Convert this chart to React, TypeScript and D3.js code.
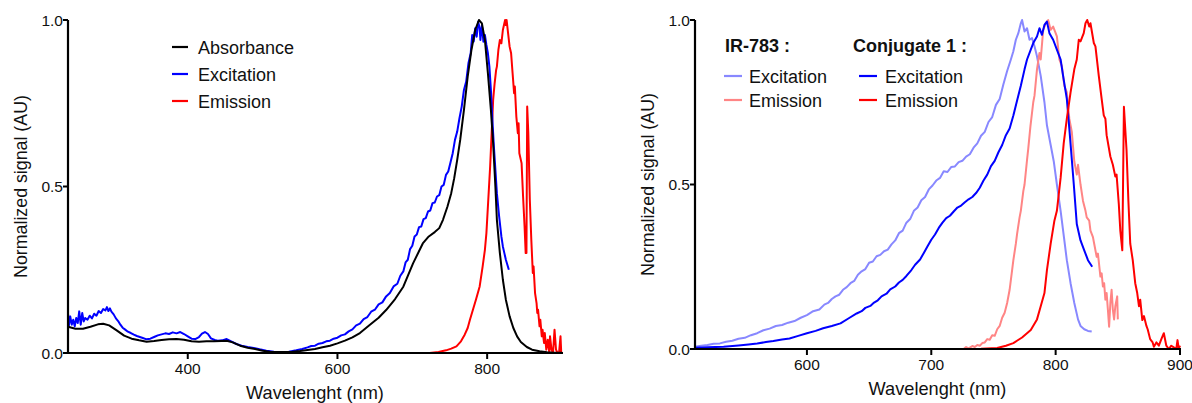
import React from "react";
import * as d3 from "d3";

// ---------- Data (wavelength nm, normalized signal) ----------
const leftAbsorbance: [number, number][] = [
  [240, 0.079], [250, 0.073], [260, 0.073], [270, 0.079], [280, 0.086], [287, 0.088], [295, 0.083],
  [305, 0.068], [315, 0.052], [325, 0.043], [335, 0.038], [345, 0.034], [355, 0.036], [365, 0.039],
  [375, 0.041], [385, 0.042], [395, 0.040], [405, 0.035], [415, 0.034], [425, 0.035], [435, 0.035],
  [445, 0.036], [452, 0.037], [460, 0.032], [470, 0.022], [480, 0.016], [490, 0.012], [500, 0.007],
  [510, 0.004], [520, 0.003], [530, 0.003], [540, 0.004], [550, 0.006], [560, 0.009], [570, 0.012],
  [580, 0.017], [590, 0.022], [600, 0.029], [610, 0.037], [620, 0.047], [630, 0.060], [643, 0.084],
  [655, 0.106], [665, 0.129], [677, 0.162], [688, 0.199], [701, 0.269], [714, 0.329], [722, 0.350],
  [730, 0.363], [736, 0.375], [741, 0.40], [747, 0.44], [752, 0.48], [756, 0.525], [760, 0.58],
  [764, 0.64], [769, 0.73], [774, 0.83], [779, 0.91], [784, 0.97], [789, 1.0], [793, 0.99],
  [797, 0.94], [801, 0.84], [805, 0.73], [808, 0.63], [811, 0.50], [813, 0.40], [817, 0.30],
  [821, 0.22], [825, 0.16], [830, 0.11], [835, 0.075], [840, 0.050], [845, 0.033], [853, 0.018],
  [860, 0.010], [870, 0.005], [880, 0.002], [890, 0.001], [900, 0.001],
];

const leftExcitation: [number, number][] = [
  [240, 0.12], [241, 0.08], [243, 0.11], [245, 0.085], [247, 0.10], [249, 0.08], [251, 0.105],
  [253, 0.09], [255, 0.125], [257, 0.085], [259, 0.12], [261, 0.095], [263, 0.105], [266, 0.10],
  [269, 0.112], [272, 0.104], [275, 0.118], [278, 0.112], [281, 0.126], [284, 0.12], [287, 0.132],
  [290, 0.128], [292, 0.138], [294, 0.126], [296, 0.134], [298, 0.124], [301, 0.116], [304, 0.104],
  [307, 0.096], [310, 0.085], [313, 0.076], [316, 0.071], [320, 0.064], [324, 0.060], [328, 0.055],
  [332, 0.051], [336, 0.048], [340, 0.045], [345, 0.041], [350, 0.043], [355, 0.048], [360, 0.053],
  [365, 0.056], [370, 0.059], [375, 0.057], [380, 0.062], [385, 0.059], [390, 0.063], [395, 0.057],
  [400, 0.050], [405, 0.043], [410, 0.042], [415, 0.048], [419, 0.058], [423, 0.063], [427, 0.057],
  [431, 0.044], [436, 0.039], [440, 0.037], [446, 0.038], [452, 0.042], [458, 0.035], [465, 0.027],
  [472, 0.022], [480, 0.018], [488, 0.015], [496, 0.011], [505, 0.007], [515, 0.004], [525, 0.003],
  [535, 0.004], [545, 0.008], [553, 0.012], [560, 0.017], [565, 0.021], [570, 0.022], [575, 0.028],
  [580, 0.030], [585, 0.035], [590, 0.037], [595, 0.043], [600, 0.046], [605, 0.053], [610, 0.056],
  [615, 0.065], [620, 0.071], [625, 0.083], [630, 0.088], [635, 0.102], [640, 0.108], [645, 0.124],
  [650, 0.130], [655, 0.146], [660, 0.152], [665, 0.170], [670, 0.180], [675, 0.200], [680, 0.208],
  [684, 0.232], [688, 0.245], [691, 0.272], [694, 0.280], [697, 0.312], [700, 0.322], [703, 0.350],
  [706, 0.356], [709, 0.378], [712, 0.380], [715, 0.402], [718, 0.405], [721, 0.425], [724, 0.428],
  [727, 0.450], [730, 0.452], [733, 0.470], [736, 0.474], [739, 0.500], [742, 0.505], [745, 0.535],
  [748, 0.545], [751, 0.572], [754, 0.600], [757, 0.640], [760, 0.665], [763, 0.705], [766, 0.740],
  [769, 0.790], [772, 0.815], [775, 0.870], [778, 0.900], [780, 0.955], [782, 0.935], [784, 0.975],
  [786, 0.950], [788, 0.995], [790, 0.975], [791, 0.940], [793, 0.985], [795, 0.935], [797, 0.955],
  [799, 0.925], [801, 0.900], [803, 0.860], [805, 0.790], [807, 0.700], [809, 0.620], [811, 0.550],
  [813, 0.480], [816, 0.410], [819, 0.350], [821, 0.320], [823, 0.300], [825, 0.280], [827, 0.265],
  [829, 0.250],
];

const leftEmission: [number, number][] = [
  [723, 0.0], [735, 0.003], [745, 0.008], [752, 0.013], [759, 0.020], [765, 0.035], [770, 0.055],
  [774, 0.075], [777, 0.100], [781, 0.130], [785, 0.160], [790, 0.200], [794, 0.260], [797, 0.310],
  [799, 0.360], [801, 0.440], [803, 0.520], [804, 0.560], [806, 0.660], [808, 0.760], [810, 0.810],
  [812, 0.850], [813, 0.860], [815, 0.910], [817, 0.940], [819, 0.930], [821, 0.970], [823, 0.990],
  [824, 1.0], [825, 0.985], [826, 1.0], [828, 0.960], [830, 0.920], [832, 0.900], [834, 0.840],
  [836, 0.780], [837, 0.800], [839, 0.710], [841, 0.660], [842, 0.690], [843, 0.600], [845, 0.580],
  [846, 0.570], [848, 0.470], [850, 0.380], [851.5, 0.300], [852.5, 0.300], [853.5, 0.740],
  [855, 0.660], [857, 0.460], [859, 0.340], [861, 0.240], [862, 0.260], [864, 0.180], [866, 0.150],
  [867, 0.120], [868, 0.130], [870, 0.080], [871, 0.100], [873, 0.050], [874, 0.070], [876, 0.030],
  [877, 0.060], [879, 0.010], [881, 0.040], [883, 0.0], [884, 0.050], [886, 0.010], [888, 0.0],
  [890, 0.070], [892, 0.010], [894, 0.0], [896, 0.0], [898, 0.050], [899, 0.0],
];

const irExcitation: [number, number][] = [
  [510, 0.007], [515, 0.010], [520, 0.012], [525, 0.016], [530, 0.017], [535, 0.022], [540, 0.025],
  [545, 0.031], [550, 0.034], [555, 0.042], [560, 0.048], [565, 0.057], [570, 0.062], [575, 0.070],
  [580, 0.073], [585, 0.080], [590, 0.085], [595, 0.095], [600, 0.103], [605, 0.115], [610, 0.120],
  [614, 0.135], [617, 0.140], [620, 0.152], [623, 0.160], [626, 0.165], [629, 0.180], [632, 0.188],
  [635, 0.200], [638, 0.207], [641, 0.226], [644, 0.236], [647, 0.243], [650, 0.262], [653, 0.266],
  [656, 0.282], [659, 0.286], [662, 0.297], [665, 0.302], [668, 0.318], [671, 0.330], [674, 0.352],
  [677, 0.360], [680, 0.384], [683, 0.395], [686, 0.420], [689, 0.430], [692, 0.452], [695, 0.462],
  [698, 0.485], [701, 0.497], [704, 0.512], [707, 0.520], [710, 0.540], [713, 0.538], [716, 0.553],
  [719, 0.555], [722, 0.568], [725, 0.572], [728, 0.585], [731, 0.592], [734, 0.612], [737, 0.625],
  [740, 0.648], [743, 0.660], [746, 0.690], [749, 0.705], [752, 0.742], [755, 0.760], [758, 0.805],
  [761, 0.845], [764, 0.880], [766, 0.905], [768, 0.940], [770, 0.960], [772, 0.990], [773, 1.0],
  [775, 0.965], [777, 0.975], [779, 0.940], [781, 0.945], [783, 0.920], [785, 0.890], [788, 0.830],
  [791, 0.750], [793, 0.680], [796, 0.620], [798.5, 0.570], [801, 0.500], [804, 0.420], [807, 0.330],
  [809, 0.270], [812, 0.200], [815, 0.140], [818, 0.090], [820, 0.070], [823, 0.060], [826, 0.055],
  [829, 0.053],
];

const conjExcitation: [number, number][] = [
  [510, 0.004], [520, 0.005], [533, 0.007], [545, 0.011], [553, 0.014], [560, 0.017], [567, 0.021],
  [573, 0.024], [580, 0.029], [586, 0.032], [593, 0.040], [600, 0.048], [607, 0.055], [613, 0.063],
  [620, 0.070], [627, 0.078], [633, 0.092], [640, 0.108], [644, 0.115], [647, 0.125], [651, 0.131],
  [654, 0.141], [657, 0.148], [660, 0.160], [664, 0.168], [667, 0.181], [671, 0.190], [674, 0.202],
  [677, 0.210], [680, 0.222], [684, 0.240], [687, 0.256], [691, 0.272], [694, 0.292], [697, 0.312],
  [700, 0.332], [703, 0.348], [706, 0.368], [709, 0.384], [712, 0.398], [715, 0.405], [718, 0.418],
  [721, 0.430], [724, 0.436], [727, 0.446], [730, 0.455], [733, 0.462], [736, 0.474], [739, 0.490],
  [742, 0.512], [745, 0.530], [748, 0.556], [751, 0.572], [754, 0.598], [757, 0.620], [760, 0.650],
  [763, 0.670], [766, 0.710], [769, 0.755], [772, 0.800], [775, 0.850], [777, 0.880], [780, 0.910],
  [782, 0.930], [785, 0.950], [787, 0.975], [789, 0.955], [791, 0.985], [793, 0.995], [795, 0.960],
  [798, 0.940], [801, 0.910], [804, 0.880], [806, 0.830], [809, 0.760], [811, 0.670], [812.5, 0.600],
  [814.6, 0.500], [817, 0.380], [820, 0.330], [823, 0.300], [826, 0.270], [829.4, 0.250],
];

const irEmission: [number, number][] = [
  [726, 0.0], [728, 0.006], [730, 0.002], [733, 0.009], [735, 0.006], [737, 0.012], [739, 0.010],
  [741, 0.018], [743, 0.020], [745, 0.030], [747, 0.028], [749, 0.042], [751, 0.040], [753, 0.060],
  [755, 0.070], [757, 0.095], [759, 0.110], [761, 0.140], [763, 0.180], [765, 0.240], [766, 0.270],
  [768, 0.320], [769, 0.350], [771, 0.400], [772, 0.420], [774, 0.480], [775, 0.500], [777, 0.575],
  [778, 0.610], [779.7, 0.676], [782, 0.750], [783, 0.770], [785, 0.850], [787, 0.900], [788, 0.880],
  [790, 0.970], [792, 0.990], [794, 1.0], [796, 0.970], [798, 0.980], [801, 0.950], [803, 0.880],
  [805, 0.860], [807, 0.800], [809, 0.780], [811, 0.700], [813, 0.660], [815, 0.570], [817, 0.530],
  [818, 0.560], [820, 0.500], [822, 0.450], [824, 0.420], [825, 0.400], [827, 0.390], [828, 0.360],
  [830, 0.340], [831, 0.320], [833, 0.280], [834, 0.290], [836, 0.220], [837, 0.230], [838, 0.190],
  [839, 0.200], [840, 0.150], [841, 0.170], [842, 0.120], [843, 0.068], [844, 0.140], [845, 0.180],
  [846, 0.120], [847, 0.090], [848, 0.130], [849.5, 0.160], [850, 0.090],
];

const conjEmission: [number, number][] = [
  [725, 0.0], [740, 0.001], [753, 0.003], [760, 0.010], [766, 0.018], [773, 0.035], [780, 0.058],
  [785, 0.090], [788, 0.130], [791, 0.170], [793, 0.240], [796, 0.320], [799, 0.390], [801, 0.420],
  [804, 0.520], [806.5, 0.626], [809, 0.700], [812, 0.780], [815, 0.850], [817, 0.880], [818.6, 0.940],
  [820, 0.935], [822.6, 0.960], [824, 0.990], [825.4, 1.0], [827, 0.980], [828, 0.990], [830.7, 0.930],
  [832, 0.920], [834.7, 0.830], [837, 0.760], [838.7, 0.710], [840, 0.700], [841, 0.650], [844, 0.585],
  [846, 0.560], [848, 0.524], [849, 0.530], [850.8, 0.440], [852, 0.360], [853.6, 0.300], [854.2, 0.500],
  [854.9, 0.736], [857, 0.605], [858.5, 0.450], [860, 0.320], [862, 0.270], [864, 0.200], [865.6, 0.170],
  [867, 0.130], [868, 0.150], [869.7, 0.088], [871, 0.100], [873, 0.070], [874, 0.060], [876, 0.030],
  [878, 0.020], [879, 0.007], [881, 0.020], [883, 0.010], [885, 0.030], [887, 0.048], [889, 0.010],
  [891, 0.0], [893, 0.010], [895, 0.005], [897, 0.0], [898, 0.027], [899, 0.0], [900, 0.010],
];

const leftXTicks = [400, 600, 800];
const rightXTicks = [600, 700, 800, 900];
const yTicks = [0, 0.5, 1.0];

const leftLegend = [
  { label: "Absorbance", color: "#000000" },
  { label: "Excitation", color: "#0000ff" },
  { label: "Emission", color: "#ff0000" },
];
const irLegend = [
  { label: "Excitation", color: "#8888ff" },
  { label: "Emission", color: "#ff8585" },
];
const conjLegend = [
  { label: "Excitation", color: "#0000ff" },
  { label: "Emission", color: "#ff0000" },
];

const FONT = "'Liberation Sans', Arial, sans-serif";

type Panel = {
  x0: number; x1: number; yTop: number; yBot: number; domain: [number, number]; ticks: number[];
};

function Axes({ p, xs, ys }: { p: Panel; xs: d3.ScaleLinear<number, number>; ys: d3.ScaleLinear<number, number> }) {
  return (
    <g>
      <line x1={p.x0} x2={p.x0} y1={p.yTop} y2={p.yBot + 1} stroke="#000" strokeWidth={2.2} />
      <line x1={p.x0 - 1} x2={p.x1 + 1} y1={p.yBot} y2={p.yBot} stroke="#000" strokeWidth={2.2} />
      {yTicks.map((t) => (
        <g key={t}>
          <line x1={p.x0 - 5} x2={p.x0} y1={ys(t)} y2={ys(t)} stroke="#000" strokeWidth={2} />
          <text x={p.x0 - 5} y={ys(t) + 5.5} textAnchor="end" fontSize={15.5} fontFamily={FONT} fill="#111">
            {d3.format(".1f")(t)}
          </text>
        </g>
      ))}
      {p.ticks.map((t) => (
        <g key={t}>
          <line x1={xs(t)} x2={xs(t)} y1={p.yBot} y2={p.yBot + 6} stroke="#000" strokeWidth={2} />
          <text x={xs(t)} y={p.yBot + 21} textAnchor="middle" fontSize={15.5} fontFamily={FONT} fill="#111">
            {t}
          </text>
        </g>
      ))}
      <text
        x={(p.x0 + p.x1) / 2}
        y={p.yBot + 46}
        textAnchor="middle"
        fontSize={18.2}
        fontFamily={FONT}
        fill="#111"
      >
        Wavelenght (nm)
      </text>
      <text
        transform={`translate(${p.x0 - 41},${(p.yTop + p.yBot) / 2}) rotate(-90)`}
        textAnchor="middle"
        fontSize={17.8}
        fontFamily={FONT}
        fill="#111"
      >
        Normalized signal (AU)
      </text>
    </g>
  );
}

export default function App() {
  const L: Panel = { x0: 68, x1: 562, yTop: 20, yBot: 353, domain: [240, 900], ticks: leftXTicks };
  const R: Panel = { x0: 695, x1: 1180, yTop: 20, yBot: 349, domain: [510, 900], ticks: rightXTicks };

  const lx = d3.scaleLinear().domain(L.domain).range([L.x0, L.x1]);
  const ly = d3.scaleLinear().domain([0, 1]).range([L.yBot, L.yTop]);
  const rx = d3.scaleLinear().domain(R.domain).range([R.x0, R.x1]);
  const ry = d3.scaleLinear().domain([0, 1]).range([R.yBot, R.yTop]);

  const lLine = d3.line<[number, number]>().x((d) => lx(d[0])).y((d) => ly(d[1]));
  const rLine = d3.line<[number, number]>().x((d) => rx(d[0])).y((d) => ry(d[1]));

  const lineProps = { fill: "none", strokeWidth: 2, strokeLinejoin: "round" as const };

  return (
    <svg
      width={1192}
      height={403}
      style={{ position: "absolute", left: 0, top: 0, background: "#fff" }}
    >
      {/* Left panel */}
      <path d={lLine(leftEmission) || ""} stroke="#ff0000" {...lineProps} />
      <path d={lLine(leftExcitation) || ""} stroke="#0000ff" {...lineProps} />
      <path d={lLine(leftAbsorbance) || ""} stroke="#000000" {...lineProps} />
      <Axes p={L} xs={lx} ys={ly} />
      {leftLegend.map((d, i) => (
        <g key={d.label}>
          <line x1={172} x2={188} y1={47 + i * 27} y2={47 + i * 27} stroke={d.color} strokeWidth={2.2} />
          <text x={198} y={53.5 + i * 27} fontSize={18} fontFamily={FONT} fill="#111">
            {d.label}
          </text>
        </g>
      ))}

      {/* Right panel */}
      <path d={rLine(irExcitation) || ""} stroke="#8888ff" {...lineProps} />
      <path d={rLine(irEmission) || ""} stroke="#ff8585" {...lineProps} />
      <path d={rLine(conjExcitation) || ""} stroke="#0000ff" {...lineProps} />
      <path d={rLine(conjEmission) || ""} stroke="#ff0000" {...lineProps} />
      <Axes p={R} xs={rx} ys={ry} />
      <text x={725} y={52} fontSize={18} fontWeight="bold" fontFamily={FONT} fill="#111">IR-783 :</text>
      <text x={853} y={52} fontSize={18} fontWeight="bold" fontFamily={FONT} fill="#111">Conjugate 1 :</text>
      {irLegend.map((d, i) => (
        <g key={"ir" + d.label}>
          <line x1={724} x2={742} y1={76 + i * 24} y2={76 + i * 24} stroke={d.color} strokeWidth={2.2} />
          <text x={749} y={82.5 + i * 24} fontSize={18} fontFamily={FONT} fill="#111">{d.label}</text>
        </g>
      ))}
      {conjLegend.map((d, i) => (
        <g key={"cj" + d.label}>
          <line x1={859} x2={877} y1={76 + i * 24} y2={76 + i * 24} stroke={d.color} strokeWidth={2.2} />
          <text x={885} y={82.5 + i * 24} fontSize={18} fontFamily={FONT} fill="#111">{d.label}</text>
        </g>
      ))}
    </svg>
  );
}
